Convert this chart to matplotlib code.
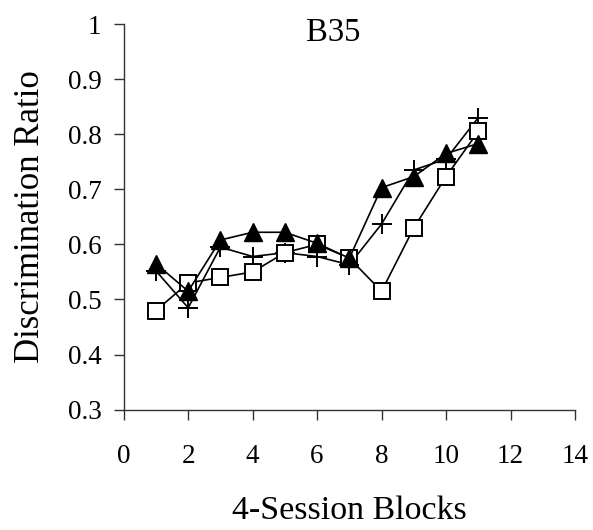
import matplotlib
matplotlib.use("Agg")
import matplotlib.pyplot as plt

blocks = [1, 2, 3, 4, 5, 6, 7, 8, 9, 10, 11]
squares = [0.48, 0.53, 0.54, 0.55, 0.585, 0.60, 0.575, 0.515, 0.63, 0.723, 0.805]
triangles = [0.565, 0.515, 0.608, 0.622, 0.622, 0.602, 0.575, 0.703, 0.723, 0.765, 0.783]
crosses = [0.552, 0.485, 0.595, 0.578, 0.585, 0.578, 0.563, 0.637, 0.735, 0.755, 0.830]

xticks = [0, 2, 4, 6, 8, 10, 12, 14]
yticks = [0.3, 0.4, 0.5, 0.6, 0.7, 0.8, 0.9, 1.0]
ytick_labels = ["0.3", "0.4", "0.5", "0.6", "0.7", "0.8", "0.9", "1"]

plt.rcParams['font.family'] = ['Liberation Serif', 'DejaVu Serif']

fig = plt.figure(figsize=(5.93, 5.30), dpi=100)
ax = fig.add_axes([0.2086, 0.227, 0.7610, 0.7277])

ax.plot(blocks, crosses, color='black', lw=1.2, marker='+', markersize=14,
        markeredgewidth=1.4, zorder=3)
ax.plot(blocks, squares, color='black', lw=1.2, marker='s', markersize=11.5,
        markerfacecolor='white', markeredgecolor='black', markeredgewidth=1.4, zorder=4)
ax.plot(blocks, triangles, color='black', lw=1.2, marker='^', markersize=13.5,
        markerfacecolor='black', markeredgecolor='black', zorder=5)

ax.set_xlim(0, 14)
ax.set_ylim(0.3, 1.0)
ax.set_xticks(xticks)
ax.set_yticks(yticks)
ax.set_yticklabels(ytick_labels)
ax.spines['top'].set_visible(False)
ax.spines['right'].set_visible(False)
for s in ['left', 'bottom']:
    ax.spines[s].set_linewidth(1.0)
    ax.spines[s].set_color('#333333')
ax.tick_params(axis='both', direction='out', length=7, width=1.0, color='#333333',
               labelsize=19.5)
ax.tick_params(axis='x', pad=18)
ax.tick_params(axis='y', pad=9)

ax.set_xlabel('4-Session Blocks', fontsize=24.5, labelpad=19)
ax.set_ylabel('Discrimination Ratio', fontsize=25, labelpad=15)
ax.text(6.5, 0.984, 'B35', ha='center', va='center', fontsize=23.5)

fig.savefig('out.png', dpi=100)
